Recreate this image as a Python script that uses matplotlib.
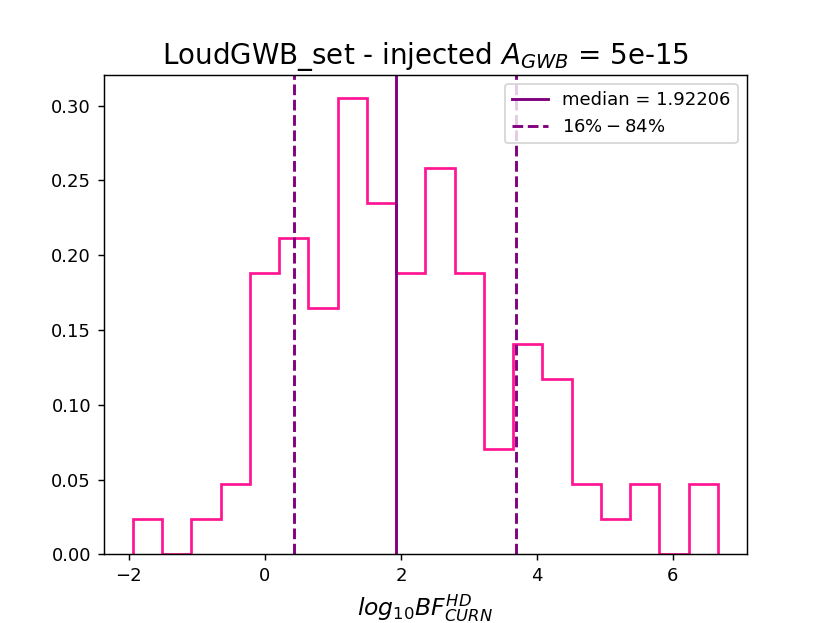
import numpy as np
import matplotlib
matplotlib.use("Agg")
import matplotlib.pyplot as plt

# Histogram data (counts per bin)
bin_min = -1.94
bin_max = 6.66
n_bins = 20
counts = [1, 0, 1, 2, 8, 9, 7, 13, 10, 8, 11, 8, 3, 6, 5, 2, 1, 2, 0, 2]

median_val = 1.92206
q16 = 0.427
q84 = 3.69

edges = np.linspace(bin_min, bin_max, n_bins + 1)
centers = 0.5 * (edges[:-1] + edges[1:])

fig, ax = plt.subplots(figsize=(830 / 130, 623 / 130), dpi=130)
ax.hist(centers, bins=edges, weights=counts, density=True, histtype='step',
        color='#FF1493', linewidth=1.5)
ax.axvline(median_val, color='purple', linestyle='-', linewidth=1.6,
           label='median = %.5f' % median_val)
ax.axvline(q16, color='purple', linestyle='--', linewidth=1.6, label=r'$16\% - 84\%$')
ax.axvline(q84, color='purple', linestyle='--', linewidth=1.6)
ax.legend(loc='upper right')
ax.set_title(r'LoudGWB_set - injected $A_{GWB}$ = 5e-15', fontsize=15.4)
ax.set_xlabel(r'$log_{10}BF^{HD}_{CURN}$', fontsize=13)
fig.savefig('out.png', dpi=130)
